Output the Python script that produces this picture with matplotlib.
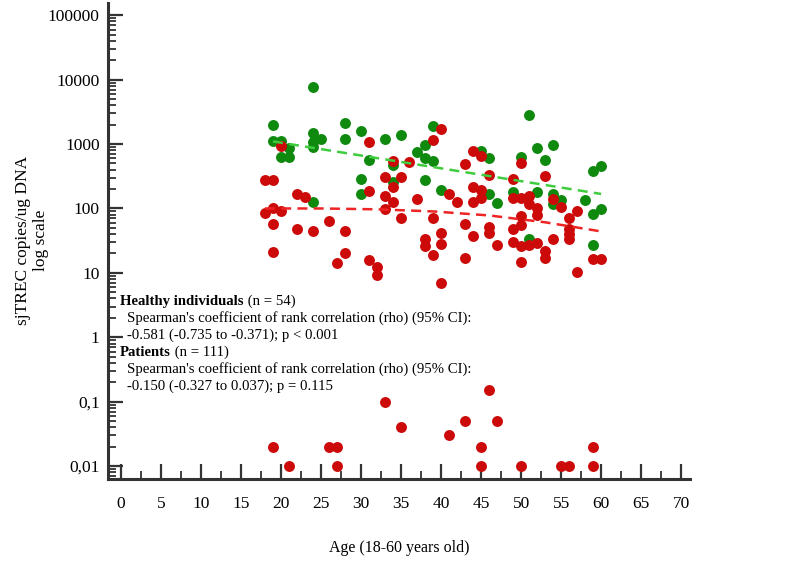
import matplotlib.pyplot as plt
from matplotlib.ticker import FixedLocator, FixedFormatter, LogLocator, NullFormatter, MultipleLocator

plt.rcParams['font.family'] = ['Liberation Serif', 'DejaVu Serif']

# healthy individuals (green dots)
healthy_age = [19, 19, 20, 20, 21, 21, 24, 24, 24, 24, 24, 25, 28, 28, 30, 30, 30, 31,
               33, 34, 34, 35, 37, 38, 38, 38, 39, 39, 40, 45, 46, 46, 47, 49, 50,
               51, 51, 52, 52, 53, 54, 54, 54, 55, 58, 59, 59, 59, 60, 60]
healthy_val = [1980, 1130, 1130, 630, 860, 630, 7800, 1480, 1090, 900, 124, 1220, 2140, 1220,
               1600, 290, 168, 570, 1220, 468, 260, 1390, 760, 980, 600, 281, 1880, 538,
               196, 787, 600, 168, 120, 182, 620, 2840, 34, 880, 182, 556, 960, 168, 118,
               134, 134, 376, 82, 27, 457, 98]

# patients (red dots)
patient_age = [18, 18, 19, 19, 19, 19, 20, 20, 22, 22, 23, 24, 26, 27, 28, 28, 31, 31, 31,
               32, 32, 33, 33, 33, 34, 34, 34, 35, 35, 36, 37, 38, 38, 39, 39, 39,
               40, 40, 40, 40, 41, 42, 43, 43, 43, 44, 44, 44, 44, 45, 45, 45, 46, 46, 46,
               47, 49, 49, 49, 49, 50, 50, 50, 50, 50, 50, 51, 51, 51, 52, 52, 52,
               53, 53, 53, 54, 54, 55, 56, 56, 56, 56, 57, 57, 59, 60,
               19, 21, 26, 27, 27, 33, 35, 41, 43, 45, 45, 46, 47, 50, 55, 56, 59, 59]
patient_val = [281, 85, 281, 100, 57, 21, 930, 92, 168, 48, 151, 44, 65, 14, 44, 20, 1090, 188, 16,
               12.4, 9.2, 303, 154, 98, 538, 219, 124, 313, 70, 521, 139, 33, 26, 1150, 72, 19,
               1720, 42, 28, 7.0, 168, 124, 499, 58, 17, 787, 219, 124, 37, 647, 196, 146, 330, 52, 42,
               27, 290, 146, 48, 30, 510, 146, 76, 55, 26, 15, 154, 118, 27, 100, 80, 29,
               323, 22, 17, 139, 34, 106, 71, 48, 40, 33, 92, 10.4, 16.7, 16.7,
               0.02, 0.01, 0.02, 0.02, 0.01, 0.1, 0.04, 0.03, 0.05, 0.02, 0.01, 0.15, 0.05, 0.01,
               0.01, 0.01, 0.02, 0.01]

# dashed trend lines
healthy_trend_age = [19, 60]
healthy_trend_val = [1100, 168]
patient_trend_age = [18, 25, 32, 39, 46, 53, 60]
patient_trend_val = [100, 100, 97, 90, 78, 61, 44]

y_ticks = [0.01, 0.1, 1, 10, 100, 1000, 10000, 100000]
y_tick_labels = ['0,01', '0,1', '1', '10', '100', '1000', '10000', '100000']
x_ticks = list(range(0, 71, 5))

W, H = 785, 574
fig = plt.figure(figsize=(W / 100, H / 100), dpi=100)
ax = fig.add_axes([108 / W, 1 - 479 / H, (690 - 108) / W, (479 - 3) / H])

ax.scatter(healthy_age, healthy_val, s=62, color='#0f8a0f', linewidths=0, zorder=3)
ax.scatter(patient_age, patient_val, s=62, color='#cc0a0a', linewidths=0, zorder=3)
ax.plot(healthy_trend_age, healthy_trend_val, ls=(0, (4, 2.5)), lw=1.8, color='#3fcc3f', zorder=4)
ax.plot(patient_trend_age, patient_trend_val, ls=(0, (4, 2.5)), lw=1.8, color='#ee2424', zorder=4)

ax.set_yscale('log')
ax.set_xlim(-1.6, 71.1)
ax.set_ylim(0.0063, 155000)

ax.yaxis.set_major_locator(FixedLocator(y_ticks))
ax.yaxis.set_major_formatter(FixedFormatter(y_tick_labels))
ax.yaxis.set_minor_locator(LogLocator(base=10, subs=range(2, 10), numticks=20))
ax.yaxis.set_minor_formatter(NullFormatter())
ax.xaxis.set_major_locator(FixedLocator(x_ticks))
ax.xaxis.set_minor_locator(MultipleLocator(2.5))

for side in ['top', 'right']:
    ax.spines[side].set_visible(False)
for side in ['left', 'bottom']:
    ax.spines[side].set_linewidth(2.2)
    ax.spines[side].set_color('#333333')

ax.tick_params(which='major', direction='in', length=11, width=1.6, color='#333333',
               labelsize=12.5, pad=6)
ax.tick_params(which='minor', direction='in', length=6, width=1.3, color='#333333')
ax.tick_params(axis='x', which='major', pad=12)

fig.text(32 / W, 1 - 240 / H, 'sjTREC copies/ug DNA\nlog scale', rotation=90,
         ha='center', va='center', fontsize=12.5, multialignment='center', linespacing=1.2)
fig.text(399 / W, 1 - 548 / H, 'Age (18-60 years old)', ha='center', va='center', fontsize=11.5)

fs = 10.6
rows = [301, 318, 335, 352, 369, 386]
t1 = fig.text(120 / W, 1 - rows[0] / H, 'Healthy individuals', fontweight='bold', fontsize=fs, va='center')
ax.annotate(' (n = 54)', xy=(1, 0.5), xycoords=t1, va='center', fontsize=fs)
fig.text(127 / W, 1 - rows[1] / H, "Spearman's coefficient of rank correlation (rho) (95% CI):",
         fontsize=fs, va='center')
fig.text(127 / W, 1 - rows[2] / H, '-0.581 (-0.735 to -0.371); p < 0.001', fontsize=fs, va='center')
t2 = fig.text(120 / W, 1 - rows[3] / H, 'Patients', fontweight='bold', fontsize=fs, va='center')
ax.annotate(' (n = 111)', xy=(1, 0.5), xycoords=t2, va='center', fontsize=fs)
fig.text(127 / W, 1 - rows[4] / H, "Spearman's coefficient of rank correlation (rho) (95% CI):",
         fontsize=fs, va='center')
fig.text(127 / W, 1 - rows[5] / H, '-0.150 (-0.327 to 0.037); p = 0.115', fontsize=fs, va='center')

fig.savefig('out.png', dpi=100)
